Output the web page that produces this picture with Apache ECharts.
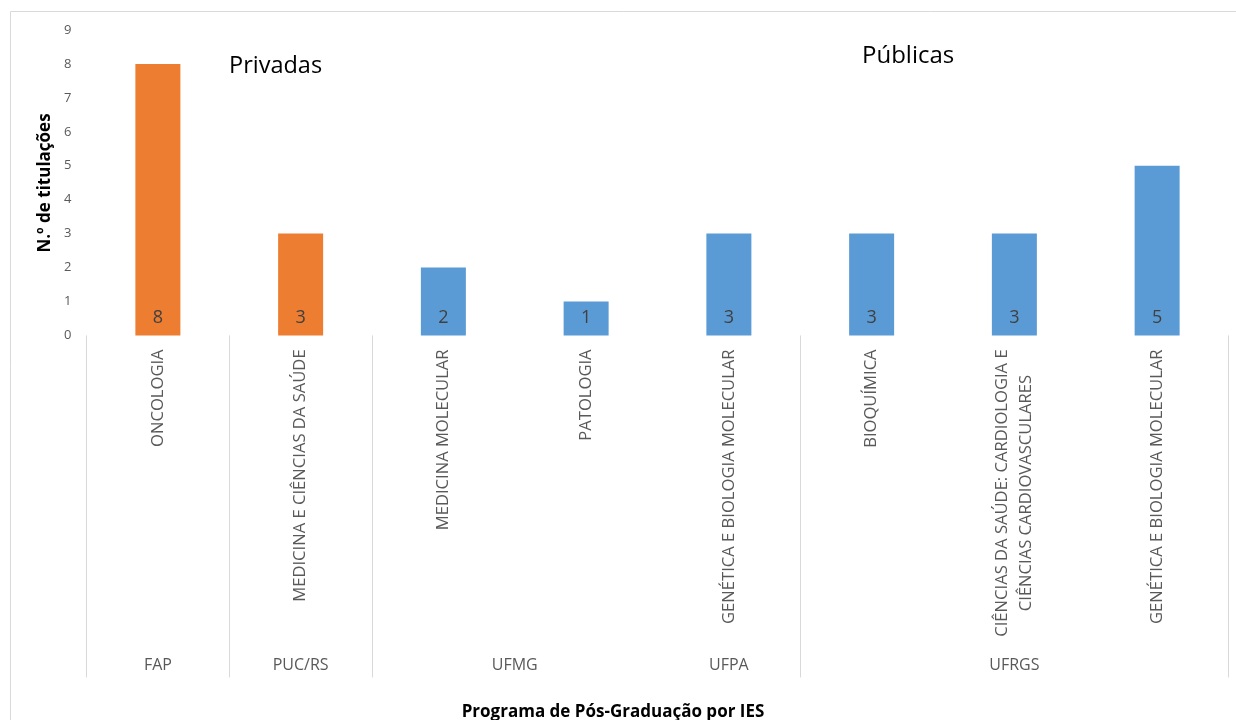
<!DOCTYPE html>
<html>
<head>
<meta charset="utf-8">
<script src="https://cdn.jsdelivr.net/npm/echarts@6/dist/echarts.min.js"></script>
<style>
html,body{margin:0;padding:0;background:#fff;}
#chart{width:1236px;height:720px;}
</style>
</head>
<body>
<div id="chart"></div>
<script>
// ---- data ----
const programs = [
  'ONCOLOGIA',
  'MEDICINA E CIÊNCIAS DA SAÚDE',
  'MEDICINA MOLECULAR',
  'PATOLOGIA',
  'GENÉTICA E BIOLOGIA MOLECULAR',
  'BIOQUÍMICA',
  'CIÊNCIAS DA SAÚDE: CARDIOLOGIA E\nCIÊNCIAS CARDIOVASCULARES',
  'GENÉTICA E BIOLOGIA MOLECULAR'
];
const titulacoes = [8, 3, 2, 1, 3, 3, 3, 5];
const sector = ['Privada', 'Privada', 'Pública', 'Pública', 'Pública', 'Pública', 'Pública', 'Pública'];
const institutions = ['FAP', 'PUC/RS', 'UFMG', 'UFPA', 'UFRGS'];
const institutionSizes = [1, 1, 2, 1, 3];
const hiddenDividers = [4]; // no divider line drawn between UFMG and UFPA in the original
const yTicks = [0, 1, 2, 3, 4, 5, 6, 7, 8, 9];

// ---- derived ----
const boundaries = [0];
institutionSizes.forEach(s => boundaries.push(boundaries[boundaries.length - 1] + s));
const dividerValues = boundaries.filter(b => hiddenDividers.indexOf(b) < 0);
const groupCenters = institutionSizes.map((s, i) => boundaries[i] + s / 2);

const colorPriv = '#ED7D31';
const colorPub = '#5B9BD5';
const font = '"Open Sans", "Noto Sans", sans-serif';

const chart = echarts.init(document.getElementById('chart'), null, {renderer: 'canvas'});
chart.setOption({
  animation: false,
  backgroundColor: '#fff',
  textStyle: {fontFamily: font},
  graphic: [
    {type: 'rect', shape: {x: 10.5, y: 11.5, width: 1240, height: 720}, style: {fill: 'none', stroke: '#d9d9d9', lineWidth: 1}, silent: true, z: -1},
    {type: 'text', left: 229, top: 54, style: {text: 'Privadas', fill: '#000', font: '23.5px ' + font}},
    {type: 'text', left: 862, top: 44, style: {text: 'Públicas', fill: '#000', font: '24px ' + font}},
    {type: 'text', x: 613, y: 712, style: {text: 'Programa de Pós-Graduação por IES', fill: '#000', font: 'bold 17px ' + font, align: 'center', verticalAlign: 'middle'}},
    {type: 'text', x: 45, y: 183, rotation: Math.PI / 2, style: {text: 'N.º de titulações', fill: '#000', font: 'bold 17px ' + font, align: 'center', verticalAlign: 'middle'}}
  ],
  grid: {left: 86.5, right: 7.5, top: 30, bottom: 384.6, containLabel: false},
  xAxis: [
    {
      type: 'category',
      data: programs,
      position: 'bottom',
      axisLine: {show: false},
      axisTick: {show: false},
      splitLine: {show: false},
      axisLabel: {
        rotate: 90,
        margin: 14,
        interval: 0,
        color: '#595959',
        fontSize: 16.6,
        fontFamily: font,
        formatter: function (v) {
          return v.split('\n').map(l => '{c|' + l + '}').join('\n');
        },
        rich: {c: {align: 'center', color: '#595959', fontSize: 16.6, fontFamily: font, lineHeight: 24}}
      }
    },
    {
      type: 'value',
      min: 0,
      max: programs.length,
      position: 'bottom',
      axisLine: {show: false},
      splitLine: {show: false},
      axisTick: {show: true, customValues: dividerValues, length: 342, lineStyle: {color: '#d9d9d9', width: 1}},
      axisLabel: {
        show: true,
        customValues: groupCenters,
        margin: 322,
        color: '#595959',
        fontSize: 16,
        fontFamily: font,
        formatter: function (v) {
          const i = groupCenters.indexOf(v);
          return i >= 0 ? institutions[i] : '';
        }
      }
    }
  ],
  yAxis: {
    type: 'value',
    min: 0,
    max: 9,
    interval: 1,
    axisLine: {show: false},
    axisTick: {show: false},
    splitLine: {show: false},
    axisLabel: {
      margin: 15,
      color: '#595959',
      fontSize: 13,
      fontFamily: font,
      customValues: yTicks
    }
  },
  series: [{
    type: 'bar',
    xAxisIndex: 0,
    barWidth: 45,
    data: titulacoes.map((v, i) => ({value: v, itemStyle: {color: sector[i] === 'Privada' ? colorPriv : colorPub}})),
    label: {
      show: true,
      position: 'insideBottom',
      distance: 9,
      color: '#404040',
      fontSize: 18,
      fontFamily: font
    }
  }]
});
</script>
</body>
</html>
